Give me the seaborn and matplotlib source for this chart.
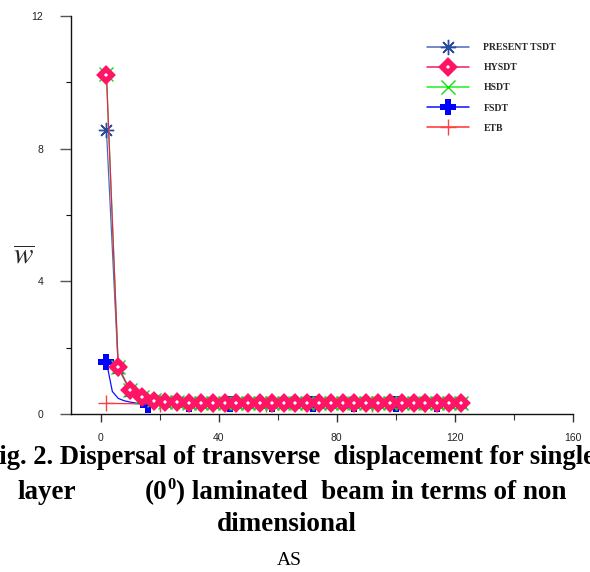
import matplotlib
matplotlib.use("Agg")
import matplotlib.pyplot as plt
import seaborn as sns
from matplotlib.lines import Line2D

# Aspect ratio (x) and non-dimensional transverse displacement (w-bar)
x_main = [2, 6, 10, 14, 18, 22, 26, 30, 34, 38, 42, 46, 50, 54, 58, 62,
          66, 70, 74, 78, 82, 86, 90, 94, 98, 102, 106, 110, 114, 118, 122]
present_tsdt = [8.57, 1.38, 0.70, 0.49, 0.41, 0.37, 0.35, 0.34, 0.34, 0.33, 0.33,
                0.33, 0.33, 0.33, 0.33, 0.33, 0.33, 0.33, 0.33, 0.33, 0.33, 0.33,
                0.33, 0.33, 0.33, 0.33, 0.33, 0.33, 0.33, 0.33, 0.33]
hysdt = [10.22, 1.43, 0.72, 0.50, 0.40, 0.37, 0.35, 0.34, 0.34, 0.33, 0.33,
         0.33, 0.33, 0.33, 0.33, 0.33, 0.33, 0.33, 0.33, 0.33, 0.33, 0.33,
         0.33, 0.33, 0.33, 0.33, 0.33, 0.33, 0.33, 0.33, 0.33]
hsdt = [10.26, 1.41, 0.71, 0.50, 0.41, 0.37, 0.35, 0.34, 0.34, 0.33, 0.33,
        0.33, 0.33, 0.33, 0.33, 0.33, 0.33, 0.33, 0.33, 0.33, 0.33, 0.33,
        0.33, 0.33, 0.33, 0.33, 0.33, 0.33, 0.33, 0.33, 0.33]

x_fsdt = [2, 4, 6, 8, 10, 12, 14, 16, 30, 44, 58, 72, 86, 100, 114]
fsdt = [1.57, 0.68, 0.47, 0.40, 0.36, 0.33, 0.30, 0.28, 0.31, 0.31, 0.31,
        0.31, 0.31, 0.31, 0.31]
fsdt_marks = [0, 7, 8, 9, 10, 11, 12, 13, 14]

x_etb = [2, 20, 38, 56, 74, 92, 110]
etb = [0.32, 0.30, 0.31, 0.31, 0.31, 0.31, 0.31]

x_ticks = [0, 40, 80, 120, 160]
y_ticks = [0, 4, 8, 12]
labels = ["PRESENT TSDT", "HYSDT", "HSDT", "FSDT", "ETB"]

sns.set_theme(style="white")
plt.rcParams["font.family"] = ["Liberation Sans", "DejaVu Sans"]

fig = plt.figure(figsize=(5.9, 5.72), dpi=100)
W, H = 590, 572
ax = fig.add_axes([71 / W, 1 - 414 / H, (573 - 71) / W, (414 - 16) / H])

# Series styles: (line colour, marker keyword arguments)
styles = {
    "PRESENT TSDT": ("#4a6ab8", dict(marker=(8, 2, 0), ms=11, mew=1.0, mec="#2a4aa0")),
    "HYSDT": ("#e8205a", dict(marker="D", ms=6.2, mew=4.0, mfc="white", mec="#ff1466")),
    "HSDT": ("#22ee22", dict(marker="x", ms=10, mew=1.0, mec="#11dd11")),
    "FSDT": ("#1010ff", dict(marker="P", ms=11, mew=0, mfc="#0000ff")),
    "ETB": ("#ff3030", dict(marker="+", ms=12, mew=1.0, mec="#ff4040")),
}

def draw(xs, ys, name, z, **extra):
    color, mk = styles[name]
    kw = dict(mk)
    kw = {"marker": kw.pop("marker"), "markersize": kw.pop("ms"),
          "markeredgewidth": kw.pop("mew"),
          **{("markeredgecolor" if k == "mec" else "markerfacecolor"): v
             for k, v in kw.items()}}
    sns.lineplot(x=xs, y=ys, ax=ax, color=color, linewidth=0.9, legend=False,
                 sort=False, zorder=z, **kw, **extra)

draw(x_main, present_tsdt, "PRESENT TSDT", 3)
draw(x_main, hsdt, "HSDT", 3)
draw(x_fsdt, fsdt, "FSDT", 2, markevery=fsdt_marks)
draw(x_etb, etb, "ETB", 2)
draw(x_main, hysdt, "HYSDT", 4)

ax.set_xlim(-10, 160)
ax.set_ylim(0, 12)
ax.set_xticks(x_ticks)
ax.set_yticks(y_ticks)
ax.set_xticks([20, 60, 100, 140], minor=True)
ax.set_yticks([2, 6, 10], minor=True)
ax.set_xticklabels([str(v) for v in x_ticks], fontsize=7.5, color="#222222")
ax.set_yticklabels([str(v) for v in y_ticks], fontsize=7.5, color="#222222")
ax.tick_params(axis="x", which="major", direction="out", length=6, width=1,
               color="#333333", pad=8, bottom=True)
ax.tick_params(axis="x", which="minor", direction="out", length=4, width=0.8,
               color="#333333", bottom=True)
ax.tick_params(axis="y", which="major", direction="out", length=8, width=1,
               color="#555555", pad=12, left=True)
ax.tick_params(axis="y", which="minor", direction="out", length=3.5, width=0.8,
               color="#111111", left=True)
for side in ("top", "right"):
    ax.spines[side].set_visible(False)
for side in ("left", "bottom"):
    ax.spines[side].set_color("#111111")
    ax.spines[side].set_linewidth(1.0)
ax.set_xlabel("")
ax.set_ylabel("")

# Legend built from proxy handles styled like the series
handles = [Line2D([], [], color=styles[n][0], lw=1.1, **styles[n][1]) for n in labels]
fig.legend(handles, labels, loc="upper left", bbox_to_anchor=(427 / W, 1 - 43 / H),
           frameon=False, prop={"family": "Liberation Serif", "weight": "bold", "size": 7},
           handlelength=4.3, handletextpad=1.5, labelspacing=1.15, borderpad=0,
           borderaxespad=0)

# Axis symbol
fig.text(24 / W, 1 - 256 / H, r"$\overline{w}$", fontsize=21,
         math_fontfamily="stix", ha="center", va="center")

# Figure caption
cap = dict(family=["Liberation Serif", "DejaVu Serif"], weight="bold", fontsize=19.5,
           color="black", va="baseline")
fig.text(289 / W, 1 - 464 / H,
         "Fig. 2. Dispersal of transverse  displacement for single", ha="center",
         **dict(cap, fontsize=19.2))
fig.text(17 / W, 1 - 499 / H, "layer", ha="left", **cap)

renderer = fig.canvas.get_renderer()
x_px = 145
t_open = fig.text(x_px / W, 1 - 499 / H, "(0", ha="left", **cap)
x_px += t_open.get_window_extent(renderer).width
sup_cap = dict(cap, fontsize=12)
t_sup = fig.text(x_px / W, 1 - 489 / H, "0", ha="left", **sup_cap)
x_px += t_sup.get_window_extent(renderer).width
fig.text(x_px / W, 1 - 499 / H, ") laminated  beam in terms of non", ha="left", **cap)

fig.text(287 / W, 1 - 531 / H, "dimensional", ha="center", **cap)
fig.text(289 / W, 1 - 565 / H, "AS", family="Liberation Serif", fontsize=14,
         color="black", ha="center", va="baseline")

fig.savefig("out.png", dpi=100)
